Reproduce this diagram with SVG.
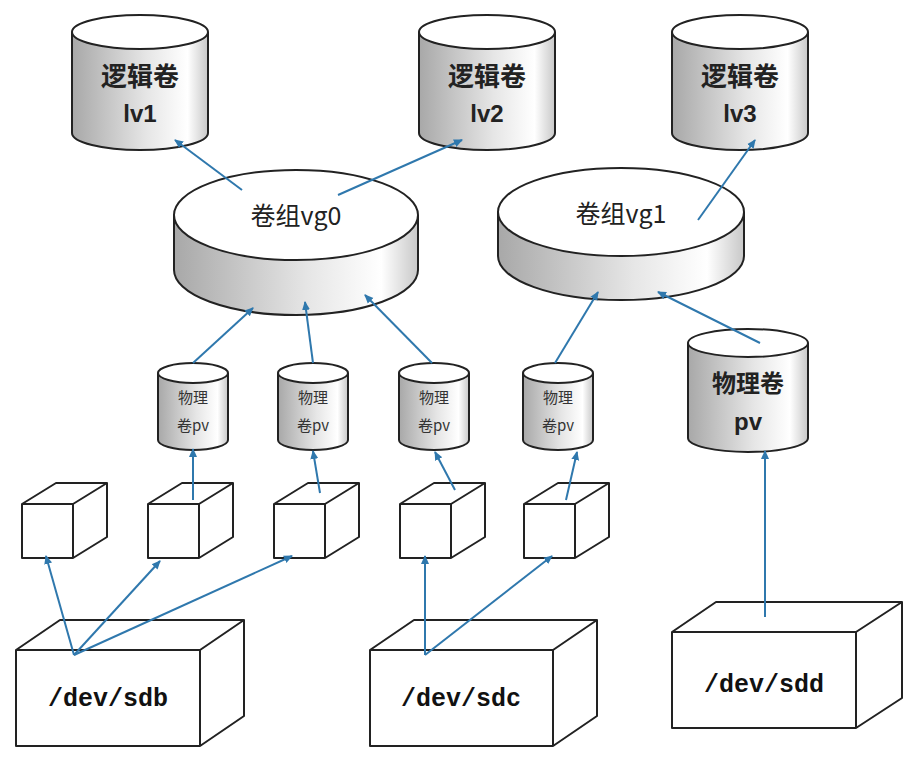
<svg xmlns="http://www.w3.org/2000/svg" width="916" height="761" viewBox="0 0 916 761">
<defs>
<linearGradient id="g" x1="0" x2="1" y1="0" y2="0">
<stop offset="0" stop-color="#a8a8a8"/><stop offset="0.55" stop-color="#e6e6e6"/><stop offset="0.85" stop-color="#ffffff"/><stop offset="1" stop-color="#c8c8c8"/>
</linearGradient>
<marker id="a" markerWidth="10" markerHeight="10" refX="8" refY="5" orient="auto" markerUnits="userSpaceOnUse">
<path d="M0,1 L9,5 L0,9 z" fill="#2f78ad"/>
</marker>
<style>
.body{fill:url(#g);stroke:#222;stroke-width:2}
.top{fill:#fff;stroke:#222;stroke-width:2}
.box{fill:#fff;stroke:#222;stroke-width:2;stroke-linejoin:round}
.c{stroke:#2f78ad;stroke-width:2;fill:none;marker-end:url(#a)}
.t{font-family:"Liberation Sans","Noto Sans CJK SC",sans-serif;font-weight:bold;fill:#222;text-anchor:middle}
.v{font-family:"Noto Sans CJK SC",sans-serif;fill:#222;text-anchor:middle;font-size:25px}
.s{font-family:"Noto Sans CJK SC",sans-serif;fill:#333;text-anchor:middle;font-size:15px}
.m{font-family:"Liberation Mono",monospace;font-weight:bold;fill:#111;text-anchor:middle;font-size:25px}
</style>
</defs>
<rect width="916" height="761" fill="#fff"/>
<g id="lv1"><path class="body" d="M72,32 V133 A68,17 0 0 0 208,133 V32"/><ellipse class="top" cx="140" cy="32" rx="68" ry="17"/><text class="t" x="140" y="86" font-size="26">逻辑卷</text><text class="t" x="140" y="122" font-size="24">lv1</text></g>
<g id="lv2"><path class="body" d="M419,32 V133 A68,17 0 0 0 555,133 V32"/><ellipse class="top" cx="487" cy="32" rx="68" ry="17"/><text class="t" x="487" y="86" font-size="26">逻辑卷</text><text class="t" x="487" y="122" font-size="24">lv2</text></g>
<g id="lv3"><path class="body" d="M672,32 V133 A68,17 0 0 0 808,133 V32"/><ellipse class="top" cx="740" cy="32" rx="68" ry="17"/><text class="t" x="740" y="86" font-size="26">逻辑卷</text><text class="t" x="740" y="122" font-size="24">lv3</text></g>
<g id="vg0"><path class="body" d="M174,215 V270 A122,45 0 0 0 418,270 V215"/><ellipse class="top" cx="296" cy="215" rx="122" ry="45"/><text class="v" x="296" y="225">卷组vg0</text></g>
<g id="vg1"><path class="body" d="M498,212 V256 A123,44 0 0 0 744,256 V212"/><ellipse class="top" cx="621" cy="212" rx="123" ry="44"/><text class="v" x="621" y="223">卷组vg1</text></g>
<g id="pv1"><path class="body" d="M158,373 V440 A35,10 0 0 0 228,440 V373"/><ellipse class="top" cx="193" cy="373" rx="35" ry="10"/><text class="s" x="193" y="403">物理</text><text class="s" x="193" y="431">卷pv</text></g>
<g id="pv2"><path class="body" d="M278,373 V440 A35,10 0 0 0 348,440 V373"/><ellipse class="top" cx="313" cy="373" rx="35" ry="10"/><text class="s" x="313" y="403">物理</text><text class="s" x="313" y="431">卷pv</text></g>
<g id="pv3"><path class="body" d="M399,373 V440 A35,10 0 0 0 469,440 V373"/><ellipse class="top" cx="434" cy="373" rx="35" ry="10"/><text class="s" x="434" y="403">物理</text><text class="s" x="434" y="431">卷pv</text></g>
<g id="pv4"><path class="body" d="M523,373 V440 A35,10 0 0 0 593,440 V373"/><ellipse class="top" cx="558" cy="373" rx="35" ry="10"/><text class="s" x="558" y="403">物理</text><text class="s" x="558" y="431">卷pv</text></g>
<g id="pv"><path class="body" d="M688,343 V438 A60,14 0 0 0 808,438 V343"/><ellipse class="top" cx="748" cy="343" rx="60" ry="14"/><text class="t" x="748" y="392" font-size="24">物理卷</text><text class="t" x="748" y="430" font-size="24">pv</text></g>
<g id="cube1"><path class="box" d="M22,504 H73 V558 H22 Z M22,504 L56,483 H107 L73,504 M107,483 V537 L73,558"/></g>
<g id="cube2"><path class="box" d="M148,504 H199 V558 H148 Z M148,504 L182,483 H233 L199,504 M233,483 V537 L199,558"/></g>
<g id="cube3"><path class="box" d="M274,504 H325 V558 H274 Z M274,504 L308,483 H359 L325,504 M359,483 V537 L325,558"/></g>
<g id="cube4"><path class="box" d="M400,504 H451 V558 H400 Z M400,504 L434,483 H485 L451,504 M485,483 V537 L451,558"/></g>
<g id="cube5"><path class="box" d="M524,504 H575 V558 H524 Z M524,504 L558,483 H609 L575,504 M609,483 V537 L575,558"/></g>
<g id="sdb"><path class="box" d="M16,650 H200 V746 H16 Z M16,650 L60,620 H244 L200,650 M244,620 V716 L200,746"/><text class="m" x="108" y="706">/dev/sdb</text></g>
<g id="sdc"><path class="box" d="M370,650 H553 V746 H370 Z M370,650 L414,620 H597 L553,650 M597,620 V716 L553,746"/><text class="m" x="461" y="706">/dev/sdc</text></g>
<g id="sdd"><path class="box" d="M672,632 H856 V728 H672 Z M672,632 L716,602 H902 L856,632 M902,602 V698 L856,728"/><text class="m" x="764" y="692">/dev/sdd</text></g>
<g id="connectors">
<line class="c" x1="242" y1="190" x2="175" y2="140"/>
<line class="c" x1="338" y1="195" x2="462" y2="140"/>
<line class="c" x1="698" y1="220" x2="755" y2="140"/>
<line class="c" x1="193" y1="363" x2="253" y2="308"/>
<line class="c" x1="313" y1="363" x2="305" y2="302"/>
<line class="c" x1="432" y1="363" x2="365" y2="295"/>
<line class="c" x1="555" y1="363" x2="598" y2="292"/>
<line class="c" x1="760" y1="343" x2="658" y2="292"/>
<line class="c" x1="193" y1="500" x2="193" y2="449"/>
<line class="c" x1="320" y1="493" x2="313" y2="451"/>
<line class="c" x1="455" y1="490" x2="435" y2="452"/>
<line class="c" x1="566" y1="500" x2="577" y2="452"/>
<line class="c" x1="74" y1="655" x2="46" y2="556"/>
<line class="c" x1="74" y1="655" x2="160" y2="561"/>
<line class="c" x1="74" y1="655" x2="292" y2="556"/>
<line class="c" x1="425" y1="655" x2="425" y2="556"/>
<line class="c" x1="425" y1="655" x2="552" y2="556"/>
<line class="c" x1="765" y1="617" x2="765" y2="451"/>
</g>
</svg>
